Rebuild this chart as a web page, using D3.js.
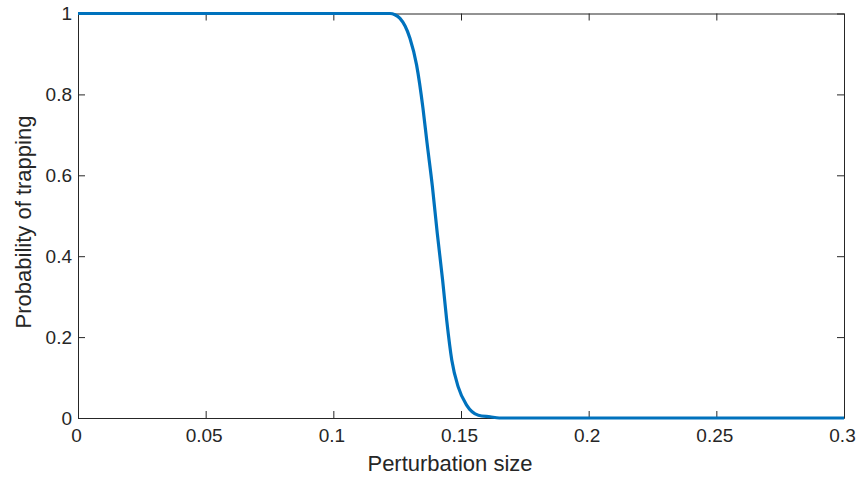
<!DOCTYPE html>
<html>
<head>
<meta charset="utf-8">
<script src="https://cdn.jsdelivr.net/npm/d3@7"></script>
<style>
  body { margin: 0; background: #fff; }
  .axis text { font-family: "Liberation Sans", Arial, sans-serif; font-size: 19px; fill: #262626; }
  .axis path, .axis line { stroke: #262626; }
  .label { font-family: "Liberation Sans", Arial, sans-serif; font-size: 22px; fill: #262626; }
</style>
</head>
<body>
<div class="chart"></div>
<script>
// values
var sizes = [0, 0.05, 0.1, 0.1222, 0.1241, 0.1261, 0.1281, 0.1300, 0.1326, 0.1351, 0.1367, 0.1388,
             0.1407, 0.1428, 0.1444, 0.1464, 0.1489, 0.1522, 0.1568, 0.1614, 0.165, 0.2, 0.25, 0.3];
var probs = [1, 1, 1, 1, 0.997, 0.988, 0.969, 0.939, 0.873, 0.766, 0.680, 0.572,
             0.457, 0.341, 0.242, 0.143, 0.077, 0.032, 0.007, 0.003, 0, 0, 0, 0];
var xTicks = [0, 0.05, 0.1, 0.15, 0.2, 0.25, 0.3];
var yTicks = [0, 0.2, 0.4, 0.6, 0.8, 1];

function init() {
    var w = 856;
    var h = 478;
    var left = 78, right = 844, top = 13.5, bottom = 418;

    var dataset = sizes.map(function (s, i) { return { x: s, y: probs[i] }; });

    var xScale = d3.scaleLinear().domain([0, 0.3]).range([left, right]);
    var yScale = d3.scaleLinear().domain([0, 1]).range([bottom, top]);

    var svg = d3.select(".chart")
        .append("svg")
        .attr("width", w)
        .attr("height", h);

    var fmt = function (d) { return String(d); };

    svg.append("g")
        .attr("class", "axis")
        .attr("transform", "translate(0," + bottom + ")")
        .call(d3.axisBottom(xScale).tickValues(xTicks).tickFormat(fmt).tickSizeInner(-7).tickSizeOuter(0).tickPadding(11))
        .selectAll("text").attr("dx", -2);

    svg.append("g")
        .attr("class", "axis")
        .attr("transform", "translate(0," + top + ")")
        .call(d3.axisTop(xScale).tickValues(xTicks).tickFormat("").tickSizeInner(-7).tickSizeOuter(0));

    svg.append("g")
        .attr("class", "axis")
        .attr("transform", "translate(" + left + ",0)")
        .call(d3.axisLeft(yScale).tickValues(yTicks).tickFormat(fmt).tickSizeInner(-7).tickSizeOuter(0).tickPadding(6));

    svg.append("g")
        .attr("class", "axis")
        .attr("transform", "translate(" + right + ",0)")
        .call(d3.axisRight(yScale).tickValues(yTicks).tickFormat("").tickSizeInner(-7).tickSizeOuter(0));

    var line = d3.line()
        .curve(d3.curveMonotoneX)
        .x(function (d) { return xScale(d.x); })
        .y(function (d) { return yScale(d.y); });

    svg.append("path")
        .datum(dataset)
        .attr("d", line)
        .style("fill", "none")
        .style("stroke", "#0072BD")
        .style("stroke-width", 3.2);

    svg.append("text")
        .attr("class", "label")
        .attr("x", 450)
        .attr("y", 471)
        .attr("text-anchor", "middle")
        .text("Perturbation size");

    svg.append("text")
        .attr("class", "label")
        .attr("transform", "translate(31," + 222 + ") rotate(-90)")
        .attr("text-anchor", "middle")
        .text("Probability of trapping");
}

init();
</script>
</body>
</html>
